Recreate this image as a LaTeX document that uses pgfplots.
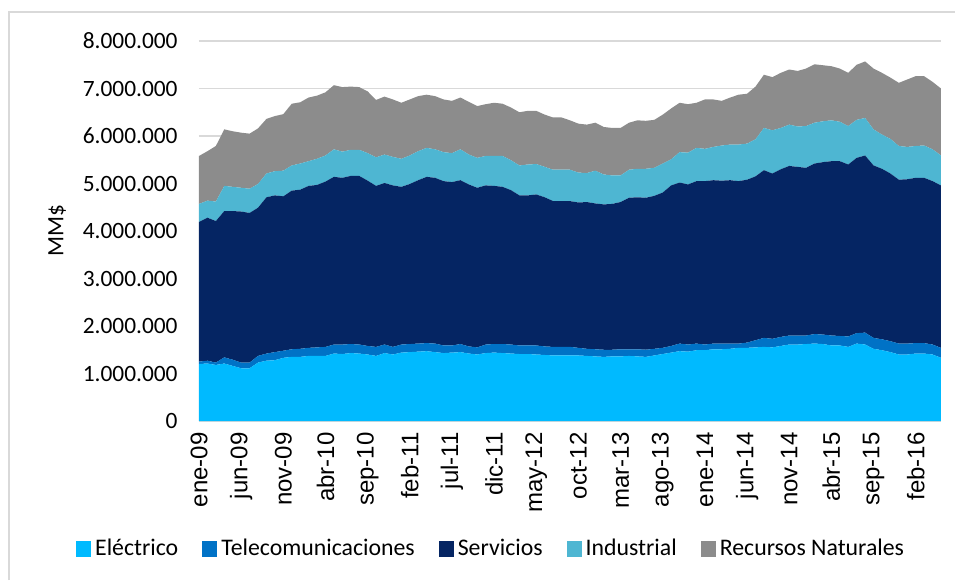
\documentclass[border=0pt]{standalone}
\usepackage{pgfplots}
\usepackage{pgfplotstable}
\pgfplotsset{compat=1.18}
\usepackage{fontspec}
\setmainfont{Carlito}
\newfontfamily\arialf{Liberation Sans}
\definecolor{cE}{RGB}{0,186,255}
\definecolor{cT}{RGB}{0,114,198}
\definecolor{cS}{RGB}{5,37,99}
\definecolor{cI}{RGB}{78,182,210}
\definecolor{cR}{RGB}{140,140,140}
\definecolor{gridc}{RGB}{217,217,217}
\pgfplotstableread{
i E T S I R
0 1200000 50000 2940000 380000 1010000
1 1210000 60000 3010000 360000 1040000
2 1180000 50000 2980000 410000 1170000
3 1210000 130000 3080000 530000 1190000
4 1160000 130000 3130000 510000 1170000
5 1110000 120000 3180000 500000 1160000
6 1110000 120000 3150000 510000 1160000
7 1230000 140000 3120000 500000 1170000
8 1270000 150000 3290000 500000 1150000
9 1280000 170000 3300000 510000 1160000
10 1330000 150000 3250000 540000 1190000
11 1350000 160000 3340000 530000 1300000
12 1350000 170000 3350000 550000 1290000
13 1370000 170000 3410000 520000 1340000
14 1370000 180000 3420000 550000 1330000
15 1370000 190000 3480000 550000 1330000
16 1420000 190000 3530000 580000 1350000
17 1410000 200000 3510000 550000 1360000
18 1430000 190000 3540000 550000 1330000
19 1420000 190000 3550000 550000 1320000
20 1400000 180000 3480000 580000 1300000
21 1370000 190000 3390000 600000 1210000
22 1430000 180000 3400000 600000 1220000
23 1400000 160000 3400000 600000 1210000
24 1440000 170000 3320000 590000 1180000
25 1450000 170000 3370000 600000 1180000
26 1460000 170000 3440000 610000 1160000
27 1470000 170000 3500000 610000 1120000
28 1450000 180000 3490000 600000 1120000
29 1430000 160000 3460000 610000 1110000
30 1440000 150000 3440000 610000 1100000
31 1450000 170000 3450000 650000 1090000
32 1420000 150000 3410000 630000 1110000
33 1400000 150000 3360000 630000 1090000
34 1430000 180000 3350000 620000 1090000
35 1440000 180000 3330000 630000 1120000
36 1430000 190000 3310000 650000 1100000
37 1420000 190000 3250000 630000 1110000
38 1410000 180000 3160000 630000 1120000
39 1410000 180000 3160000 650000 1130000
40 1400000 190000 3180000 640000 1120000
41 1390000 180000 3140000 640000 1100000
42 1380000 180000 3070000 660000 1100000
43 1380000 180000 3070000 660000 1100000
44 1380000 180000 3070000 660000 1040000
45 1380000 160000 3060000 630000 1030000
46 1370000 150000 3090000 610000 1020000
47 1360000 150000 3070000 690000 1010000
48 1350000 150000 3060000 630000 1000000
49 1360000 140000 3070000 600000 1000000
50 1360000 150000 3100000 560000 1000000
51 1370000 140000 3190000 590000 990000
52 1360000 150000 3200000 600000 1020000
53 1350000 150000 3200000 610000 1010000
54 1380000 140000 3220000 590000 1010000
55 1410000 130000 3270000 610000 1030000
56 1440000 140000 3380000 550000 1070000
57 1470000 160000 3390000 640000 1040000
58 1460000 150000 3370000 670000 1020000
59 1490000 140000 3420000 700000 950000
60 1490000 120000 3440000 680000 1040000
61 1510000 120000 3440000 700000 1000000
62 1510000 120000 3430000 740000 940000
63 1520000 110000 3440000 750000 990000
64 1540000 90000 3420000 770000 1050000
65 1540000 110000 3430000 760000 1050000
66 1550000 150000 3450000 780000 1110000
67 1560000 190000 3530000 890000 1120000
68 1550000 180000 3480000 910000 1120000
69 1580000 190000 3530000 870000 1160000
70 1610000 190000 3570000 870000 1160000
71 1610000 190000 3550000 850000 1170000
72 1620000 180000 3530000 880000 1210000
73 1630000 200000 3590000 860000 1230000
74 1620000 200000 3630000 860000 1180000
75 1590000 210000 3670000 860000 1140000
76 1590000 200000 3680000 830000 1120000
77 1560000 220000 3620000 810000 1120000
78 1630000 220000 3690000 800000 1160000
79 1610000 250000 3730000 790000 1190000
80 1520000 230000 3630000 760000 1280000
81 1490000 230000 3590000 720000 1300000
82 1450000 230000 3530000 730000 1290000
83 1400000 230000 3450000 710000 1330000
84 1400000 230000 3460000 680000 1420000
85 1420000 220000 3480000 670000 1470000
86 1420000 220000 3480000 680000 1460000
87 1400000 210000 3440000 670000 1420000
88 1330000 210000 3420000 630000 1410000
}\data
\begin{document}
\fontsize{11.7pt}{14pt}\selectfont
\begin{tikzpicture}
\path[use as bounding box] (0,0) rectangle (477.5pt,290pt);
\draw[gridc, line width=0.6pt] (4.5pt,0) -- (4.5pt,284pt) -- (477.5pt,284pt);
\begin{axis}[
  at={(99.5pt,79.5pt)}, anchor=south west,
  scale only axis, width=371pt, height=190pt,
  xmin=0, xmax=88, ymin=0, ymax=8000000,
  stack plots=y,
  axis x line*=bottom, axis y line*=left,
  x axis line style={draw=gridc, line width=0.6pt},
  y axis line style={draw=none},
  major tick length=0pt,
  ytick={0,1000000,...,8000000},
  scaled y ticks=false,
  /pgf/number format/fixed,
  /pgf/number format/1000 sep={.},
  /pgf/number format/assume math mode=true,
  yticklabel style={font=\fontsize{11.7pt}{14pt}\selectfont, inner sep=0pt, xshift=-10.5pt, anchor=east},
  xtick={0,5,...,85},
  xticklabels={ene-09,jun-09,nov-09,abr-10,sep-10,feb-11,jul-11,dic-11,may-12,oct-12,mar-13,ago-13,ene-14,jun-14,nov-14,abr-15,sep-15,feb-16},
  xticklabel style={font=\arialf\fontsize{12pt}{14pt}\selectfont, rotate=90, anchor=east, inner sep=0pt, xshift=-5.5pt},
  ymajorgrids, major grid style={draw=gridc, line width=0.6pt},
  ylabel={MM\$},
  ylabel style={font=\fontsize{11.7pt}{14pt}\selectfont, at={(axis description cs:-0.191,0.5)}, anchor=center},
  legend columns=5,
  legend style={at={(0.395,-0.338)}, anchor=center, draw=none, fill=none,
    font=\fontsize{11.9pt}{14pt}\selectfont,
    /tikz/every even column/.append style={column sep=10pt},
    /tikz/every odd column/.append style={column sep=0pt}},
  legend cell align=left,
  legend image code/.code={\path[#1, draw=none] (0pt,-4pt) rectangle (7.5pt,4pt);},
]
\addplot[fill=cE, draw=none] table[x=i, y=E] {\data} \closedcycle;
\addlegendentry{Eléctrico}
\addplot[fill=cT, draw=none] table[x=i, y=T] {\data} \closedcycle;
\addlegendentry{Telecomunicaciones}
\addplot[fill=cS, draw=none] table[x=i, y=S] {\data} \closedcycle;
\addlegendentry{Servicios}
\addplot[fill=cI, draw=none] table[x=i, y=I] {\data} \closedcycle;
\addlegendentry{Industrial}
\addplot[fill=cR, draw=none] table[x=i, y=R] {\data} \closedcycle;
\addlegendentry{Recursos Naturales}
\end{axis}
\end{tikzpicture}
\end{document}
